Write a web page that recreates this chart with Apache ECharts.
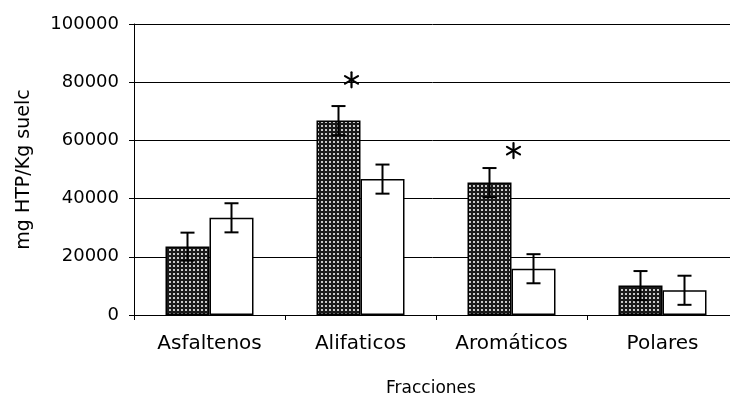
<!DOCTYPE html>
<html><head><meta charset="utf-8">
<script src="https://cdn.jsdelivr.net/npm/echarts@6/dist/echarts.min.js"></script>
<style>html,body{margin:0;padding:0;background:#fff}#c{width:730px;height:397px}</style>
</head><body><div id="c"></div>
<script>
// ---- data ----
const categories = ['Asfaltenos', 'Alifaticos', 'Aromáticos', 'Polares'];
const seriesA = [23500, 66800, 45500, 10100];   // patterned (dark) bars
const errorsA = [4800, 5000, 5000, 5000];
const seriesB = [33400, 46700, 15900, 8500];    // white bars
const errorsB = [5000, 5000, 5000, 5000];
const starCategories = ['Alifaticos', 'Aromáticos'];
const starValues = [80800, 56500];
const yMin = 0, yMax = 100000, yStep = 20000;

// ---- styling ----
const FONT = 'DejaVu Sans';
const BAR_W = 44;
const STAR_DX = [-9, 2];   // small horizontal nudge of each asterisk (px)

const pc = document.createElement('canvas');
pc.width = 4; pc.height = 4;
const ctx = pc.getContext('2d');
ctx.fillStyle = '#1a1a1a'; ctx.fillRect(0, 0, 4, 4);
ctx.fillStyle = '#c8c8c8'; ctx.fillRect(1, 1, 2, 2);

function errRender(dx) {
  return function (params, api) {
    const i = api.value(0), v = api.value(1), e = api.value(2);
    const hi = api.coord([i, v + e]), lo = api.coord([i, v - e]);
    const x = hi[0] + dx, cap = 7;
    const style = { stroke: '#000', lineWidth: 2 };
    return { type: 'group', children: [
      { type: 'line', shape: { x1: x, y1: hi[1], x2: x, y2: lo[1] }, style },
      { type: 'line', shape: { x1: x - cap, y1: hi[1], x2: x + cap, y2: hi[1] }, style },
      { type: 'line', shape: { x1: x - cap, y1: lo[1], x2: x + cap, y2: lo[1] }, style }
    ]};
  };
}
function starRender(params, api) {
  const c = api.coord([api.value(0), api.value(1)]);
  const cx = c[0] + (STAR_DX[params.dataIndex] || 0), cy = c[1];
  const r = 7.5, kids = [];
  [90, 30, 150].forEach(a => {
    const t = a * Math.PI / 180;
    kids.push({ type: 'line', shape: { x1: cx - r * Math.cos(t), y1: cy - r * Math.sin(t), x2: cx + r * Math.cos(t), y2: cy + r * Math.sin(t) },
      style: { stroke: '#000', lineWidth: 2.2, lineCap: 'round' } });
  });
  return { type: 'group', children: kids };
}

const chart = echarts.init(document.getElementById('c'), null, { renderer: 'canvas' });
chart.setOption({
  backgroundColor: '#fff',
  animation: false,
  grid: { left: 134, top: 24, width: 604, height: 291, containLabel: false, outerBoundsMode: 'none' },
  xAxis: {
    type: 'category', data: categories,
    axisLine: { lineStyle: { color: '#000', width: 1 } },
    axisTick: { show: true, length: 5, lineStyle: { color: '#000' } },
    axisLabel: { color: '#000', fontFamily: FONT, fontSize: 20, margin: 19 },
    name: 'Fracciones', nameLocation: 'middle', nameGap: 65,
    nameTextStyle: { color: '#000', fontFamily: FONT, fontSize: 17, padding: [0, 10, 0, 0] }
  },
  yAxis: {
    type: 'value', min: yMin, max: yMax, interval: yStep,
    axisLine: { show: true, lineStyle: { color: '#000', width: 1 } },
    axisTick: { show: true, length: 5, lineStyle: { color: '#000' } },
    splitLine: { show: true, lineStyle: { color: '#000', width: 1 } },
    axisLabel: { color: '#000', fontFamily: FONT, fontSize: 18, margin: 15, formatter: v => String(v) },
    name: 'mg HTP/Kg suelc', nameLocation: 'middle', nameGap: 100, nameRotate: 90,
    nameTextStyle: { color: '#000', fontFamily: FONT, fontSize: 19 }
  },
  series: [
    { type: 'bar', data: seriesA, barWidth: BAR_W, barGap: '0%',
      itemStyle: { color: { image: pc, repeat: 'repeat' }, borderColor: '#000', borderWidth: 1.5 } },
    { type: 'bar', data: seriesB, barWidth: BAR_W, barGap: '0%',
      itemStyle: { color: '#fff', borderColor: '#000', borderWidth: 1.5 } },
    { type: 'custom', renderItem: errRender(-BAR_W / 2), z: 5,
      data: seriesA.map((v, i) => [i, v, errorsA[i]]), encode: { x: 0, y: 1 } },
    { type: 'custom', renderItem: errRender(BAR_W / 2), z: 5,
      data: seriesB.map((v, i) => [i, v, errorsB[i]]), encode: { x: 0, y: 1 } },
    { type: 'custom', renderItem: starRender, z: 6,
      data: starCategories.map((c, i) => [categories.indexOf(c), starValues[i]]), encode: { x: 0, y: 1 } }
  ]
});
</script>
</body></html>
